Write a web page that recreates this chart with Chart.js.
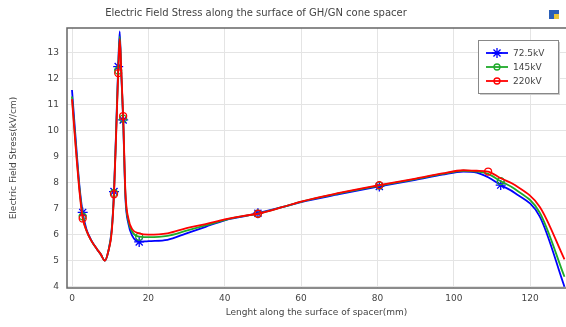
<!DOCTYPE html>
<html>
<head>
<meta charset="utf-8">
<script src="https://cdn.jsdelivr.net/npm/chart.js@4"></script>
<style>
  html, body { margin: 0; padding: 0; background: #fff; }
</style>
</head>
<body>
<canvas id="chart" width="566" height="327"></canvas>
<script>
// data
const seriesNames = ["72.5kV", "145kV", "220kV"];
const xTicks = [0, 20, 40, 60, 80, 100, 120];
const yTicks = [4, 5, 6, 7, 8, 9, 10, 11, 12, 13];

const lengthMm = [0, 1, 2, 2.8, 3.8, 5, 6.5, 7.5, 8.6, 9.5, 10.4, 11.0, 11.6, 12.1, 12.5, 12.9, 13.4, 14.0, 14.8, 15.8, 17.6,
  20, 25, 30, 35, 40, 45, 48.7, 55, 60, 70, 80.5, 90, 97, 102.5, 106, 109, 112.3, 116, 122.5, 129];

const stress72 = [11.55, 9.6, 7.8, 6.85, 6.2, 5.8, 5.45, 5.25, 5.0, 5.35, 6.2, 7.65, 10.2, 12.45, 13.8, 12.2, 10.4, 7.4, 6.4, 5.95, 5.72,
  5.75, 5.8, 6.05, 6.3, 6.55, 6.7, 6.82, 7.05, 7.25, 7.55, 7.85, 8.1, 8.3, 8.42, 8.38, 8.2, 7.9, 7.6, 6.7, 4.0];
const stress145 = [11.3, 9.4, 7.7, 6.7, 6.15, 5.78, 5.45, 5.25, 5.0, 5.35, 6.15, 7.6, 10.1, 12.3, 13.6, 12.25, 10.45, 7.5, 6.5, 6.1, 5.92,
  5.9, 5.95, 6.15, 6.35, 6.56, 6.71, 6.8, 7.05, 7.26, 7.58, 7.88, 8.13, 8.33, 8.45, 8.42, 8.33, 8.05, 7.75, 6.85, 4.38];
const stress220 = [11.2, 9.3, 7.6, 6.62, 6.15, 5.78, 5.45, 5.25, 5.0, 5.35, 6.1, 7.55, 10.0, 12.2, 13.5, 12.3, 10.55, 7.6, 6.6, 6.2, 6.05,
  6.0, 6.05, 6.25, 6.4, 6.58, 6.72, 6.8, 7.05, 7.27, 7.6, 7.9, 8.15, 8.35, 8.47, 8.45, 8.42, 8.16, 7.9, 7.07, 5.05];

const marks72 = [2.8, 11.0, 12.1, 13.4, 17.6, 48.7, 80.5, 112.3];
const marks145 = [2.8, 11.0, 12.1, 13.4, 17.6, 48.7, 80.5, 112.3];
const marks220 = [2.8, 11.0, 12.1, 13.4, 48.7, 80.5, 109];

const FONT = "'DejaVu Sans', sans-serif";
const TEXT = "#444";
const colors = ["#0000ff", "#1faa2a", "#ff0000"];
const styles = ["star", "circle", "circle"];

function makeSet(i, values, marks) {
  return {
    label: seriesNames[i],
    data: lengthMm.map((x, k) => ({ x, y: values[k] })),
    borderColor: colors[i],
    backgroundColor: "rgba(255,255,255,0)",
    borderWidth: 1.8,
    cubicInterpolationMode: "monotone",
    pointStyle: styles[i],
    pointRadius: ctx => marks.includes(lengthMm[ctx.dataIndex]) ? (i === 0 ? 5 : 3.5) : 0,
    pointBorderWidth: 1.3,
    pointBorderColor: colors[i],
    pointBackgroundColor: "rgba(255,255,255,0)",
    order: 3 - i
  };
}

// frame, title, legend box and the little icon in the corner
const decor = {
  id: "decor",
  beforeDatasetsDraw(chart) {
    const { ctx, chartArea: a } = chart;
    ctx.save();
    ctx.strokeStyle = "#666";
    ctx.lineWidth = 1.5;
    ctx.strokeRect(a.left, a.top, a.right - a.left + 5, a.bottom - a.top);
    ctx.restore();
  },
  afterDraw(chart) {
    const { ctx } = chart;
    ctx.save();
    ctx.fillStyle = TEXT;
    ctx.font = "10px " + FONT;
    ctx.textAlign = "center";
    ctx.textBaseline = "middle";
    ctx.fillText("Electric Field Stress along the surface of GH/GN cone spacer", 256, 13);

    // icon
    ctx.fillStyle = "#2a5fb8";
    ctx.fillRect(549, 10, 10, 9);
    ctx.fillStyle = "#e8c53a";
    ctx.fillRect(554, 14, 5, 5);

    // legend
    const bx = 478, by = 40, bw = 80, bh = 53;
    ctx.fillStyle = "#ccc";
    ctx.fillRect(bx + 2, by + 2, bw, bh);
    ctx.fillStyle = "#fff";
    ctx.fillRect(bx, by, bw, bh);
    ctx.strokeStyle = "#888";
    ctx.lineWidth = 1;
    ctx.strokeRect(bx + 0.5, by + 0.5, bw, bh);
    ctx.font = "9px " + FONT;
    ctx.textAlign = "left";
    seriesNames.forEach((name, i) => {
      const y = 53 + i * 14;
      ctx.strokeStyle = colors[i];
      ctx.lineWidth = 1.8;
      ctx.beginPath();
      ctx.moveTo(486, y);
      ctx.lineTo(508, y);
      ctx.stroke();
      ctx.lineWidth = 1.3;
      ctx.beginPath();
      if (i === 0) {
        for (let k = 0; k < 4; k++) {
          const ang = k * Math.PI / 4;
          ctx.moveTo(497 - 5 * Math.cos(ang), y - 5 * Math.sin(ang));
          ctx.lineTo(497 + 5 * Math.cos(ang), y + 5 * Math.sin(ang));
        }
      } else {
        ctx.arc(497, y, 3, 0, Math.PI * 2);
      }
      ctx.stroke();
      ctx.fillStyle = TEXT;
      ctx.fillText(name, 513, y + 0.5);
    });
    ctx.restore();
  }
};

new Chart(document.getElementById("chart"), {
  type: "line",
  data: {
    datasets: [
      makeSet(0, stress72, marks72),
      makeSet(1, stress145, marks145),
      makeSet(2, stress220, marks220)
    ]
  },
  options: {
    responsive: false,
    animation: false,
    devicePixelRatio: 1,
    layout: { padding: { top: 28, left: 0, right: 0, bottom: 0 } },
    plugins: { legend: { display: false }, title: { display: false }, tooltip: { enabled: false } },
    scales: {
      x: {
        type: "linear",
        min: -1.31,
        max: 129.4,
        afterBuildTicks: s => { s.ticks = xTicks.map(v => ({ value: v })); },
        afterFit: s => { s.height = 39; },
        grid: { color: "#e4e4e4", drawTicks: false },
        border: { display: false },
        ticks: { padding: 5, color: TEXT, font: { family: FONT, size: 9 } },
        title: {
          display: true,
          text: "Lenght along the surface of spacer(mm)",
          color: TEXT,
          font: { family: FONT, size: 9 },
          padding: { top: 0, bottom: 9 }
        }
      },
      y: {
        min: 3.95,
        max: 13.93,
        afterBuildTicks: s => { s.ticks = yTicks.map(v => ({ value: v })); },
        afterFit: s => { s.width = 67; },
        grid: { color: "#e4e4e4", drawTicks: false },
        border: { display: false },
        ticks: { padding: 8, color: TEXT, font: { family: FONT, size: 9 } },
        title: {
          display: true,
          text: "Electric Field Stress(kV/cm)",
          color: TEXT,
          font: { family: FONT, size: 9 },
          padding: { top: 8, bottom: 0 }
        }
      }
    }
  },
  plugins: [decor]
});
</script>
</body>
</html>
